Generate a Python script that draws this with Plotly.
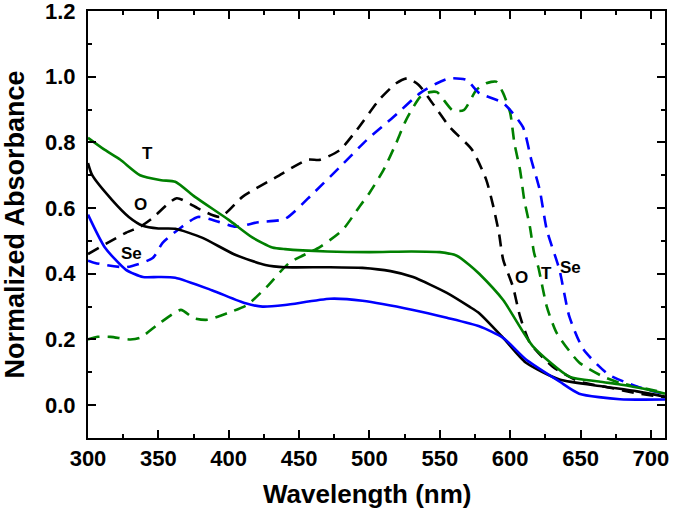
import plotly.graph_objects as go

# Solid curves
t_solid_x = [300, 312, 323, 337, 352, 362, 376, 400, 417, 431, 440, 470, 500, 530, 550, 562, 571, 578, 595, 616, 642, 663, 678, 695, 710]
t_solid_y = [0.814, 0.777, 0.747, 0.70, 0.685, 0.68, 0.634, 0.564, 0.51, 0.48, 0.475, 0.468, 0.466, 0.468, 0.466, 0.455, 0.427, 0.40, 0.32, 0.18, 0.087, 0.072, 0.063, 0.05, 0.035]

o_solid_x = [300, 303, 317, 329, 339, 350, 362, 381, 405, 426, 440, 470, 495, 515, 531, 555, 571, 578, 595, 611, 635, 666, 690, 710]
o_solid_y = [0.737, 0.70, 0.625, 0.573, 0.546, 0.538, 0.537, 0.51, 0.457, 0.427, 0.42, 0.42, 0.418, 0.408, 0.39, 0.342, 0.30, 0.28, 0.205, 0.13, 0.078, 0.057, 0.042, 0.026]

se_solid_x = [300, 312, 327, 339, 350, 362, 388, 412, 424, 440, 472, 495, 531, 555, 578, 595, 611, 635, 649, 678, 710]
se_solid_y = [0.58, 0.48, 0.412, 0.39, 0.39, 0.388, 0.35, 0.31, 0.30, 0.305, 0.324, 0.318, 0.29, 0.266, 0.24, 0.205, 0.14, 0.072, 0.035, 0.018, 0.017]

# Dashed curves
o_dash_x = [300, 327, 337, 346, 363, 380, 394, 410, 434, 456, 465, 479, 491, 507, 519, 527, 535, 543, 557, 573, 583, 588, 592, 595, 602, 607, 614, 630, 649, 670, 690, 710]
o_dash_y = [0.46, 0.525, 0.543, 0.57, 0.63, 0.595, 0.573, 0.635, 0.695, 0.747, 0.747, 0.777, 0.838, 0.93, 0.98, 0.995, 0.975, 0.93, 0.847, 0.777, 0.686, 0.605, 0.524, 0.443, 0.36, 0.27, 0.19, 0.118, 0.072, 0.054, 0.036, 0.024]

se_dash_x = [300, 305, 327, 346, 353, 364, 378, 393, 405, 421, 440, 460, 479, 498, 517, 536, 548, 557, 569, 578, 595, 609, 615, 621, 626, 635, 642, 652, 670, 690, 710]
se_dash_y = [0.44, 0.433, 0.42, 0.448, 0.494, 0.534, 0.573, 0.558, 0.543, 0.557, 0.567, 0.645, 0.725, 0.807, 0.877, 0.95, 0.98, 0.995, 0.99, 0.95, 0.92, 0.847, 0.747, 0.655, 0.534, 0.412, 0.27, 0.17, 0.093, 0.057, 0.033]

t_dash_x = [300, 307, 316, 330, 337, 351, 366, 375, 385, 399, 413, 427, 443, 465, 481, 493, 500, 510, 519, 526, 536, 543, 548, 559, 567, 576, 583, 590, 595, 600, 603, 607, 610, 614, 617, 620, 626, 633, 649, 666, 678, 710]
t_dash_y = [0.20, 0.208, 0.208, 0.20, 0.205, 0.25, 0.29, 0.265, 0.26, 0.28, 0.305, 0.36, 0.433, 0.482, 0.534, 0.605, 0.646, 0.716, 0.798, 0.868, 0.938, 0.953, 0.953, 0.898, 0.898, 0.96, 0.98, 0.985, 0.95, 0.89, 0.797, 0.716, 0.625, 0.543, 0.463, 0.42, 0.30, 0.22, 0.13, 0.087, 0.068, 0.038]

labels_text = ["T", "O", "Se", "O", "T", "Se"]
labels_x = [342, 337, 331, 608, 626, 643]
labels_y = [0.767, 0.61, 0.463, 0.39, 0.40, 0.42]

x_ticks = [300, 350, 400, 450, 500, 550, 600, 650, 700]
y_ticks = [0.0, 0.2, 0.4, 0.6, 0.8, 1.0, 1.2]
y_ticktext = ["0.0", "0.2", "0.4", "0.6", "0.8", "1.0", "1.2"]

GREEN = "#008000"
BLUE = "#0000FF"
BLACK = "#000000"
DASH = "12px,8px"
FONT = "Liberation Sans, Arial"

fig = go.Figure()
series = [
    (t_dash_x, t_dash_y, GREEN, DASH),
    (se_dash_x, se_dash_y, BLUE, DASH),
    (o_dash_x, o_dash_y, BLACK, DASH),
    (t_solid_x, t_solid_y, GREEN, "solid"),
    (o_solid_x, o_solid_y, BLACK, "solid"),
    (se_solid_x, se_solid_y, BLUE, "solid"),
]
for xs, ys, c, d in series:
    fig.add_trace(go.Scatter(x=xs, y=ys, mode="lines",
                             line=dict(color=c, width=2.6, dash=d, shape="spline", smoothing=0.6),
                             showlegend=False, hoverinfo="skip"))

for t, x, y in zip(labels_text, labels_x, labels_y):
    fig.add_annotation(x=x, y=y, text=t, showarrow=False,
                       font=dict(family=FONT, size=17, color="black", weight="bold"))

# x-axis title as a paper annotation (slightly left of centre, as in the original)
fig.add_annotation(xref="paper", yref="paper", x=0.483, y=-0.131, xanchor="center", yanchor="middle",
                   text="Wavelength (nm)", showarrow=False,
                   font=dict(family=FONT, size=26, color="black", weight="bold"))

axis_font = dict(family=FONT, size=22, color="black", weight="bold")

fig.update_xaxes(range=[300, 710], tickmode="array", tickvals=x_ticks,
                 ticks="inside", ticklen=8, tickwidth=2, tickcolor="black",
                 minor=dict(ticks="inside", ticklen=4, tickwidth=2, tickcolor="black", dtick=25, tick0=300, showgrid=False),
                 showline=True, linewidth=2, linecolor="black", mirror="allticks",
                 showgrid=False, zeroline=False, tickfont=axis_font, automargin=False,
                 ticklabeloverflow="allow")
fig.update_yaxes(range=[-0.1, 1.2], tickmode="array", tickvals=y_ticks, ticktext=y_ticktext,
                 ticks="inside", ticklen=8, tickwidth=2, tickcolor="black",
                 minor=dict(ticks="inside", ticklen=4, tickwidth=2, tickcolor="black", dtick=0.1, tick0=0, showgrid=False),
                 showline=True, linewidth=2, linecolor="black", mirror="allticks",
                 showgrid=False, zeroline=False, tickfont=axis_font, automargin=False,
                 ticklabelstandoff=6, ticklabeloverflow="allow",
                 title=dict(text="Normalized Absorbance",
                            font=dict(family=FONT, size=27, color="black", weight="bold"), standoff=13))

fig.update_layout(width=675, height=509, margin=dict(l=88, r=10, t=11, b=71),
                  plot_bgcolor="white", paper_bgcolor="white")

fig.write_html("out.html", config={"displayModeBar": False},
               post_script="document.body.style.margin='0px';")
